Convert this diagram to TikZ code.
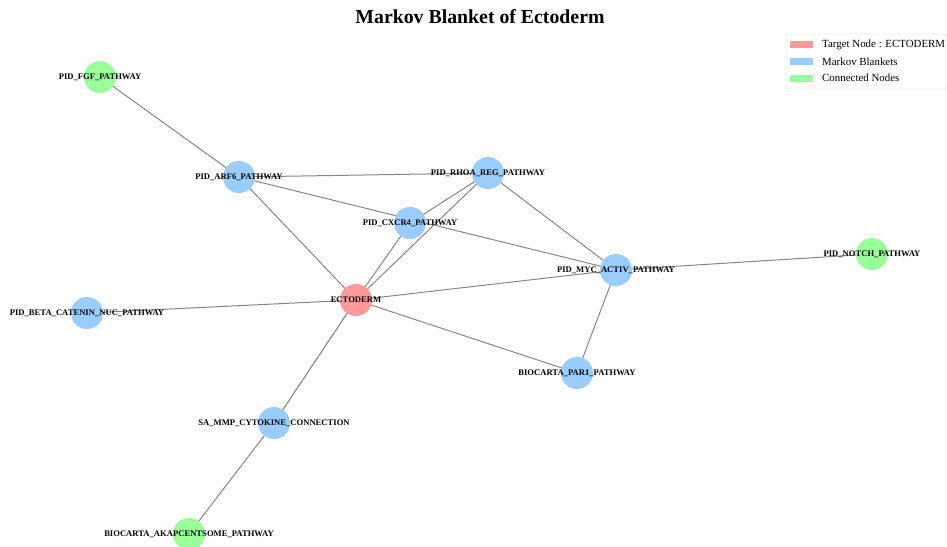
\documentclass[tikz,border=0pt]{standalone}
\usepackage{fontspec}
\setmainfont{Liberation Serif}
\usetikzlibrary{backgrounds}

\definecolor{targetred}{HTML}{FF9999}
\definecolor{blanketblue}{HTML}{99CCFF}
\definecolor{connectgreen}{HTML}{99FF99}
\definecolor{edgegray}{HTML}{868686}

\begin{document}
\begin{tikzpicture}[x=1pt,y=-1pt,
    dot/.style={circle,inner sep=0pt,minimum size=32pt},
    targetdot/.style={dot,fill=targetred},
    blanketdot/.style={dot,fill=blanketblue},
    connecteddot/.style={dot,fill=connectgreen},
    pwlabel/.style={font=\fontsize{8.6}{9}\selectfont\bfseries,inner sep=0pt},
    link/.style={edgegray,line width=1pt},
    legpatch/.style={minimum width=23pt,minimum height=7pt,inner sep=0pt},
    legtext/.style={font=\fontsize{10.9}{12}\selectfont,anchor=west,inner sep=0pt}]

\useasboundingbox (0,0) rectangle (947,546);

% Title
\node[font=\fontsize{19.8}{22}\selectfont\bfseries] (title) at (480,17) {Markov Blanket of Ectoderm};

% Draw the nodes
\node[targetdot] (ecto) at (356,300) {};
\node[blanketdot] (arf6) at (239,177) {};
\node[blanketdot] (rhoa) at (488,173) {};
\node[blanketdot] (cxcr4) at (410,223) {};
\node[blanketdot] (myc) at (616,270) {};
\node[blanketdot] (beta) at (87,313) {};
\node[blanketdot] (par1) at (577,373) {};
\node[blanketdot] (mmp) at (274,423) {};
\node[connecteddot] (fgf) at (100,77) {};
\node[connecteddot] (notch) at (872,254) {};
\node[connecteddot] (akap) at (189,534) {};

% Draw the edges
\begin{scope}[on background layer]
\foreach \a/\b in {fgf/arf6,arf6/rhoa,arf6/ecto,arf6/myc,rhoa/cxcr4,rhoa/ecto,
    rhoa/myc,cxcr4/ecto,ecto/myc,myc/notch,myc/par1,ecto/par1,ecto/beta,
    ecto/mmp,mmp/akap}
    \draw[link] (\a.center) -- (\b.center);
\end{scope}

% Add node labels
\node[pwlabel] (ectolbl) at (ecto) {ECTODERM};
\node[pwlabel] (arf6lbl) at (arf6) {PID\_ARF6\_PATHWAY};
\node[pwlabel] (rhoalbl) at (rhoa) {PID\_RHOA\_REG\_PATHWAY};
\node[pwlabel] (cxcr4lbl) at (cxcr4) {PID\_CXCR4\_PATHWAY};
\node[pwlabel] (myclbl) at (myc) {PID\_MYC\_ACTIV\_PATHWAY};
\node[pwlabel] (betalbl) at (beta) {PID\_BETA\_CATENIN\_NUC\_PATHWAY};
\node[pwlabel] (par1lbl) at (par1) {BIOCARTA\_PAR1\_PATHWAY};
\node[pwlabel] (mmplbl) at (mmp) {SA\_MMP\_CYTOKINE\_CONNECTION};
\node[pwlabel] (fgflbl) at (fgf) {PID\_FGF\_PATHWAY};
\node[pwlabel] (notchlbl) at (notch) {PID\_NOTCH\_PATHWAY};
\node[pwlabel] (akaplbl) at (akap) {BIOCARTA\_AKAPCENTSOME\_PATHWAY};

% Legend
\draw[gray!35,fill=white,rounded corners=2pt] (786,34) rectangle (946,89);
\node[legpatch,fill=targetred] (legt) at (801.5,44.5) {};
\node[legpatch,fill=blanketblue] (legb) at (801.5,61.5) {};
\node[legpatch,fill=connectgreen] (legc) at (801.5,78) {};
\node[legtext] (legttext) at (822,44.5) {Target Node : ECTODERM};
\node[legtext] (legbtext) at (822,61.5) {Markov Blankets};
\node[legtext] (legctext) at (822,78) {Connected Nodes};

\end{tikzpicture}
\end{document}
